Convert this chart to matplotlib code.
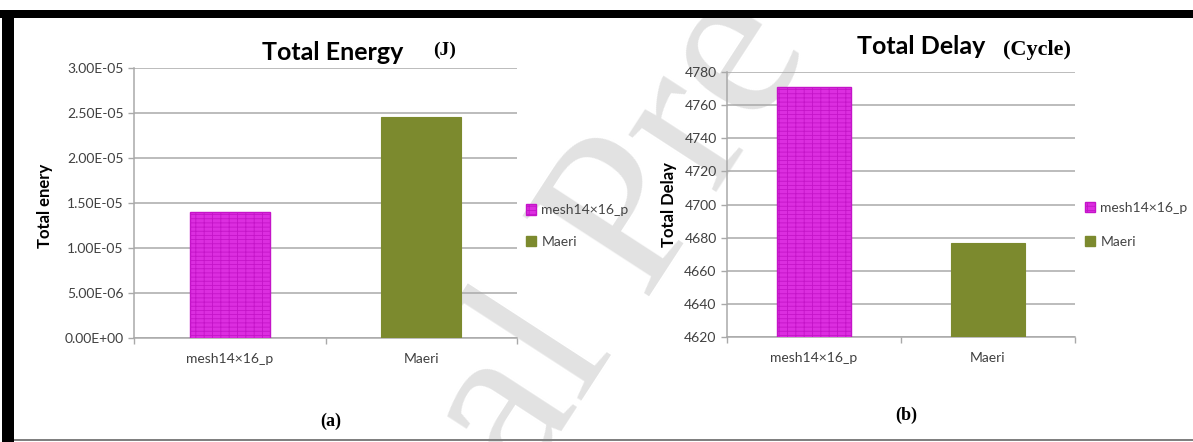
import matplotlib
matplotlib.use("Agg")
import matplotlib.pyplot as plt
from matplotlib.patches import Patch, Rectangle
from matplotlib.ticker import FormatStrFormatter, FixedLocator

categories = ["mesh14×16_p", "Maeri"]
energy = [1.40e-05, 2.46e-05]        # J
delay = [4771, 4677]                 # cycles
energy_ticks = [0, 5e-06, 1e-05, 1.5e-05, 2e-05, 2.5e-05, 3e-05]
delay_ticks = [4620, 4640, 4660, 4680, 4700, 4720, 4740, 4760, 4780]

W, H = 1193, 442
MAGENTA = "#dc2ee0"
OLIVE = "#7c8a2e"
GRID = "#a9a9a9"
SANS = ["Lato", "DejaVu Sans"]
SERIF = ["Liberation Serif", "DejaVu Serif"]

plt.rcParams["font.family"] = SANS
plt.rcParams["hatch.color"] = "#f4a6f6"
plt.rcParams["hatch.linewidth"] = 0.6


def fx(px):
    return px / W


def fy(py):
    return 1 - py / H


fig = plt.figure(figsize=(W / 100, H / 100), dpi=100)
fig.patch.set_facecolor("white")

# faint page watermark sitting behind both charts
fig.text(fx(685), fy(241), "Journal Pre-proof", family=SERIF, fontsize=165,
         color="#e2e2e2", rotation=57, rotation_mode="anchor",
         ha="center", va="baseline", zorder=-5)


def draw_panel(rect, values, ticks, fmt, ylabel, label_xy, legend_anchor,
               spacing):
    ax = fig.add_axes(rect)
    ax.set_facecolor("none")
    x = list(range(len(categories)))
    ax.bar(x[0], values[0], width=0.42, color=MAGENTA, edgecolor="#c414c8",
           linewidth=1.0, hatch="----||", zorder=3)
    ax.bar(x[1], values[1], width=0.42, color=OLIVE, edgecolor=OLIVE,
           linewidth=0.8, zorder=3)
    ax.set_xlim(-0.5, len(categories) - 0.5)
    ax.set_ylim(ticks[0], ticks[-1])
    ax.set_yticks(ticks)
    ax.yaxis.set_major_formatter(FormatStrFormatter(fmt))
    ax.yaxis.grid(True, color=GRID, linewidth=1.1, zorder=0)
    ax.set_axisbelow(True)

    ax.set_xticks(x)
    ax.set_xticklabels(categories)
    ax.xaxis.set_minor_locator(FixedLocator([-0.5, 0.5, 1.5]))
    ax.tick_params(axis="x", which="major", length=0, pad=11,
                   labelsize=10, labelcolor="#404040")
    ax.tick_params(axis="x", which="minor", length=4.5, width=1.0, color=GRID)
    ax.tick_params(axis="y", length=4.5, width=1.0, color=GRID,
                   labelsize=10, labelcolor="#404040", pad=3)

    for side in ("top", "right"):
        ax.spines[side].set_visible(False)
    for side in ("left", "bottom"):
        ax.spines[side].set_color(GRID)
        ax.spines[side].set_linewidth(1.1)

    ax.set_ylabel(ylabel, fontsize=12, fontweight="bold", color="black")
    ax.yaxis.set_label_coords(*label_xy)

    handles = [Patch(facecolor=MAGENTA, edgecolor="#c414c8", hatch="----||",
                     label=categories[0]),
               Patch(facecolor=OLIVE, edgecolor=OLIVE, label=categories[1])]
    ax.legend(handles=handles, loc="center left",
              bbox_to_anchor=legend_anchor, bbox_transform=fig.transFigure,
              frameon=False, borderpad=0, borderaxespad=0,
              handlelength=0.75, handleheight=0.75, handletextpad=0.35,
              labelspacing=spacing, fontsize=10, labelcolor="#454545")
    return ax


ax1 = draw_panel([fx(134), fy(338), fx(517) - fx(134), (338 - 68) / H],
                 energy, energy_ticks, "%.2E", "Total enery",
                 (-0.211, 0.49), (fx(526), fy(226)), 1.4)
ax2 = draw_panel([fx(727), fy(337), fx(1075) - fx(727), (337 - 72) / H],
                 delay, delay_ticks, "%d", "Total Delay",
                 (-0.143, 0.50), (fx(1085), fy(225)), 1.55)

# chart titles with their units
fig.text(fx(333), fy(53), "Total Energy", fontsize=18, fontweight="bold",
         ha="center", va="center")
fig.text(fx(445), fy(50), "(J)", family=SERIF, fontsize=14,
         fontweight="bold", ha="center", va="center")
fig.text(fx(921), fy(47), "Total Delay", fontsize=18, fontweight="bold",
         ha="center", va="center")
fig.text(fx(1037), fy(50), "(Cycle)", family=SERIF, fontsize=16,
         fontweight="bold", ha="center", va="center")

# panel captions
fig.text(fx(331), fy(421), "(a)", family=SERIF, fontsize=13,
         fontweight="bold", ha="center", va="center")
fig.text(fx(906), fy(415), "(b)", family=SERIF, fontsize=13,
         fontweight="bold", ha="center", va="center")

# frame around the figure
fig.add_artist(Rectangle((0, fy(10)), 1, 10 / H, transform=fig.transFigure,
                         facecolor="white", edgecolor="none", zorder=10))
fig.add_artist(Rectangle((0, fy(18)), 1, 8 / H, transform=fig.transFigure,
                         facecolor="black", edgecolor="none", zorder=11))
fig.add_artist(Rectangle((fx(2), 0), fx(14) - fx(2), fy(10),
                         transform=fig.transFigure, facecolor="black",
                         edgecolor="none", zorder=11))
fig.add_artist(Rectangle((fx(14), fy(441)), 1 - fx(14), 2 / H,
                         transform=fig.transFigure, facecolor="#808080",
                         edgecolor="none", zorder=11))

fig.savefig("out.png", dpi=100)
